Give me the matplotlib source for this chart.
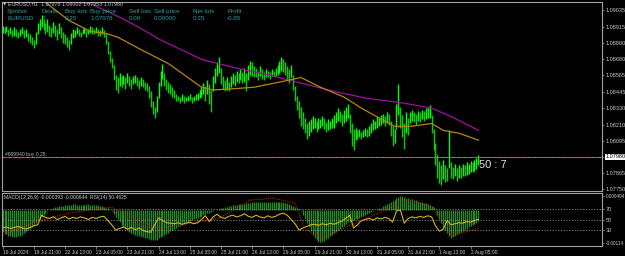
import numpy as np
import matplotlib
matplotlib.use('Agg')
import matplotlib.pyplot as plt
import matplotlib.transforms as mtransforms

plt.rcParams['font.family'] = ['Liberation Sans', 'DejaVu Sans']

# EURUSD H1 bars (high / low), one per hour
highs = [
    1.0892, 1.0891, 1.0892, 1.0890, 1.0891,
    1.0889, 1.0891, 1.0890, 1.0888, 1.0890,
    1.0891, 1.0889, 1.0890, 1.0887, 1.0886, 1.0884, 1.0882,
    1.0888, 1.0894, 1.0897, 1.0900,
    1.0896, 1.0894, 1.0897, 1.0893, 1.0891, 1.0895,
    1.0893, 1.0890, 1.0894, 1.0891, 1.0888, 1.0886, 1.0884, 1.0882,
    1.0887, 1.0890, 1.0889, 1.0891, 1.0890, 1.0888, 1.0890, 1.0891, 1.0889, 1.0890, 1.0892,
    1.0891, 1.0890, 1.0891, 1.0890, 1.0889, 1.0891, 1.0889,
    1.0887, 1.0881, 1.0874, 1.0869,
    1.0864, 1.0857, 1.0855,
    1.0858, 1.0856, 1.0857, 1.0855, 1.0858, 1.0856, 1.0854,
    1.0856, 1.0857, 1.0855, 1.0853, 1.0855, 1.0854, 1.0852, 1.0851,
    1.0849, 1.0845, 1.0838, 1.0834,
    1.0842, 1.0852, 1.0860, 1.0865,
    1.0858, 1.0854, 1.0852, 1.0850, 1.0848, 1.0846,
    1.0843, 1.0842, 1.0841, 1.0843, 1.0842, 1.0841, 1.0842, 1.0843, 1.0841, 1.0842, 1.0843, 1.0844, 1.0846,
    1.0848, 1.0851, 1.0849, 1.0853, 1.0850, 1.0846,
    1.0856, 1.0862, 1.0866, 1.0870,
    1.0862, 1.0856, 1.0853, 1.0855, 1.0852,
    1.0856, 1.0858, 1.0857, 1.0860, 1.0858, 1.0861, 1.0859,
    1.0862, 1.0858, 1.0864, 1.0867, 1.0866, 1.0863,
    1.0862, 1.0860, 1.0863, 1.0861, 1.0859, 1.0861,
    1.0860, 1.0859, 1.0861, 1.0860, 1.0862, 1.0864,
    1.0867, 1.0870, 1.0868, 1.0866,
    1.0863, 1.0861, 1.0864,
    1.0857, 1.0849, 1.0842,
    1.0838, 1.0834, 1.0830,
    1.0826, 1.0822, 1.0824, 1.0825,
    1.0827, 1.0826, 1.0824, 1.0826, 1.0825, 1.0827, 1.0826, 1.0823, 1.0825, 1.0824, 1.0826,
    1.0828, 1.0830, 1.0833, 1.0831, 1.0829, 1.0832, 1.0834, 1.0836,
    1.0829, 1.0822, 1.0818,
    1.0819, 1.0817, 1.0818, 1.0816, 1.0817, 1.0819, 1.0818, 1.0820,
    1.0822, 1.0825, 1.0824, 1.0827, 1.0826, 1.0828, 1.0829, 1.0827, 1.0830, 1.0829,
    1.0824, 1.0820, 1.0818,
    1.0836, 1.0850,
    1.0834, 1.0828, 1.0822, 1.0830, 1.0826,
    1.0830, 1.0832, 1.0830, 1.0829, 1.0831, 1.0830, 1.0832, 1.0831, 1.0833, 1.0834, 1.0835,
    1.0828, 1.0818, 1.0808,
    1.0800, 1.0795, 1.0792, 1.0796,
    1.0792, 1.0790,
    1.0817,
    1.0794, 1.0791, 1.0793, 1.0790, 1.0792, 1.0791, 1.0793, 1.0792,
    1.0794, 1.0793, 1.0795, 1.0794, 1.0796, 1.0797, 1.0799,
]
lows = [
    1.0887, 1.0886, 1.0888, 1.0885, 1.0886,
    1.0884, 1.0885, 1.0884, 1.0883, 1.0885,
    1.0886, 1.0883, 1.0884, 1.0881, 1.0880, 1.0878, 1.0876,
    1.0879, 1.0886, 1.0889, 1.0891,
    1.0889, 1.0886, 1.0888, 1.0885, 1.0884, 1.0887,
    1.0885, 1.0882, 1.0886, 1.0883, 1.0880, 1.0879, 1.0877, 1.0875,
    1.0879, 1.0883, 1.0884, 1.0886, 1.0885, 1.0884, 1.0886, 1.0887, 1.0884, 1.0886, 1.0887,
    1.0886, 1.0886, 1.0887, 1.0885, 1.0885, 1.0886, 1.0884,
    1.0879, 1.0872, 1.0866, 1.0862,
    1.0853, 1.0846, 1.0844,
    1.0849, 1.0848, 1.0850, 1.0847, 1.0851, 1.0849, 1.0847,
    1.0850, 1.0851, 1.0849, 1.0847, 1.0849, 1.0848, 1.0846, 1.0845,
    1.0840, 1.0834, 1.0829, 1.0826,
    1.0830, 1.0840, 1.0849, 1.0854,
    1.0849, 1.0846, 1.0844, 1.0843, 1.0841, 1.0840,
    1.0838, 1.0838, 1.0837, 1.0838, 1.0837, 1.0838, 1.0838, 1.0839, 1.0837, 1.0838, 1.0839, 1.0839, 1.0840,
    1.0841, 1.0843, 1.0838, 1.0843, 1.0836, 1.0830,
    1.0845, 1.0851, 1.0856, 1.0858,
    1.0850, 1.0847, 1.0845, 1.0846, 1.0845,
    1.0848, 1.0850, 1.0849, 1.0852, 1.0851, 1.0853, 1.0851,
    1.0852, 1.0845, 1.0853, 1.0857, 1.0856, 1.0855,
    1.0855, 1.0853, 1.0856, 1.0854, 1.0853, 1.0855,
    1.0855, 1.0854, 1.0856, 1.0855, 1.0856, 1.0857,
    1.0858, 1.0860, 1.0859, 1.0857,
    1.0853, 1.0851, 1.0855,
    1.0846, 1.0838, 1.0832,
    1.0826, 1.0820, 1.0818,
    1.0815, 1.0811, 1.0813, 1.0816,
    1.0818, 1.0819, 1.0816, 1.0818, 1.0819, 1.0820, 1.0818, 1.0816, 1.0817, 1.0818, 1.0819,
    1.0819, 1.0822, 1.0824, 1.0823, 1.0820, 1.0822, 1.0824, 1.0826,
    1.0815, 1.0806, 1.0803,
    1.0810, 1.0811, 1.0812, 1.0811, 1.0812, 1.0813, 1.0812, 1.0813,
    1.0815, 1.0817, 1.0818, 1.0819, 1.0820, 1.0821, 1.0822, 1.0820, 1.0822, 1.0821,
    1.0813, 1.0806, 1.0808,
    1.0818, 1.0828,
    1.0819, 1.0812, 1.0804, 1.0815, 1.0814,
    1.0822, 1.0824, 1.0823, 1.0821, 1.0824, 1.0823, 1.0825, 1.0824, 1.0825, 1.0826, 1.0826,
    1.0815, 1.0803, 1.0792,
    1.0783, 1.0779, 1.0778, 1.0782,
    1.0780, 1.0781,
    1.0790,
    1.0783, 1.0782, 1.0784, 1.0781, 1.0783, 1.0783, 1.0784, 1.0784,
    1.0785, 1.0786, 1.0787, 1.0787, 1.0788, 1.0789, 1.0792,
]

# moving averages read at a few bars
ma_slow_idx = [0, 35, 45, 56, 66, 81, 102, 119, 136, 153, 170, 187, 204, 220, 230, 244]
ma_slow = [1.0909, 1.0909, 1.0908, 1.0901, 1.0894, 1.0882, 1.0868, 1.0862, 1.0857,
           1.0851, 1.0845, 1.0840, 1.0837, 1.0833, 1.0827, 1.0817]
ma_fast_idx = [15, 20, 34, 45, 52, 59, 71, 85, 95, 102, 108, 119, 129, 143, 153,
               163, 175, 184, 193, 201, 210, 220, 226, 234, 244]
ma_fast = [1.0914, 1.0911, 1.0896, 1.0888, 1.0887, 1.0884, 1.0875, 1.0865, 1.0855,
           1.0848, 1.0846, 1.0847, 1.0848, 1.0852, 1.0855, 1.0848, 1.0841, 1.0833,
           1.0826, 1.0820, 1.0820, 1.0822, 1.0817, 1.0815, 1.0810]

# MACD main per bar (units of 0.00001)
macd_main = [
    -75, -80, -84, -88, -90, -92, -93, -92, -90, -88, -85, -80, -75, -70, -64, -58, -52, -45, -38,
    -30, -22, -15, -9, -4, 0, 4, 7, 10, 12, 14, 15,
    16, 17, 18, 18, 19, 20, 20, 19, 19, 18, 18, 19, 20, 20, 19, 18, 18, 17, 17, 16,
    14, 12, 9, 6, 2, -4,
    -12, -22, -32, -42, -50, -58, -64, -70, -75, -79, -83, -86, -88, -90,
    -92, -94, -96, -98, -100, -102, -104, -104, -102, -98,
    -94, -90, -86, -82, -78, -74, -70, -66, -62, -58, -54, -50, -47, -44, -41,
    -38, -35, -32, -29, -26, -23, -20, -17, -14, -11, -8, -5, -2, 0,
    2, 4, 6, 8, 10, 12, 14, 16, 17, 18, 19, 20, 21, 22, 23, 24,
    25, 26, 27, 28, 28, 29, 29, 30, 30, 30, 29, 29, 28, 28, 27, 27, 28, 28, 27, 26,
    24, 22, 19, 16, 12, 8, 3, -3,
    -15, -30, -45, -60, -74, -86, -96,
    -104, -110, -112, -110, -106,
    -100, -95, -90, -85, -80, -75, -70, -65, -60, -54, -48, -42,
    -40, -38, -35, -32, -29, -26, -22, -19, -16, -12, -9, -6, -3, 0, 3, 6, 9,
    13, 17, 21, 25, 29, 33, 37, 41, 46, 50,
    48, 46, 44, 42, 40, 38, 36, 34, 32, 30, 28, 26, 24, 22, 19, 16, 12,
    0, -15, -30, -45, -58, -70, -80, -88, -95,
    -92, -88, -84, -80, -76, -72, -68, -64, -60, -56, -52, -48, -44, -39,
]
signal_idx = [0, 16, 34, 51, 56, 73, 81, 111, 127, 139, 150, 155, 163, 170, 187,
              201, 206, 218, 221, 225, 230, 235, 244]
signal_vals = [-87, -42, -10, 7, 10, -52, -63, -28, 35, 42, 24, -63, -97, -77, -28,
               17, 35, 17, 10, -42, -87, -80, -63]

# RSI(14), every second bar
rsi_vals = [
    34, 36, 33, 35, 37, 34, 32, 35, 38, 40,
    58, 54, 52, 55, 50, 53, 56, 51, 54, 52, 55, 53, 50, 54, 52, 55,
    56, 48, 40,
    30, 33, 36, 32, 35, 31, 34, 29, 27, 26,
    40, 53, 48, 44,
    43, 42, 44, 41, 43, 45, 42, 44,
    50, 57, 46, 55, 60,
    54, 52, 56, 58, 55, 57, 61, 56, 54, 58, 55, 53, 57, 54, 56, 60, 62,
    58, 50, 42,
    30, 34, 37,
    40, 41, 39, 42, 40, 43, 41, 44, 47, 52,
    58, 34, 40,
    48, 50, 52, 49, 53, 51, 54, 52, 45,
    66, 68, 43,
    52, 55, 53, 56, 54, 57, 55,
    38, 28, 32,
    48, 40, 42, 44, 43, 46, 45, 48, 50.46,
]
rsi_levels = [70, 50, 30]

time_labels = ['19 Jul 2024', '19 Jul 21:00', '22 Jul 13:00', '23 Jul 05:00', '23 Jul 21:00',
               '24 Jul 13:00', '25 Jul 05:00', '25 Jul 21:00', '26 Jul 13:00', '29 Jul 05:00',
               '29 Jul 21:00', '30 Jul 13:00', '31 Jul 05:00', '31 Jul 21:00', '1 Aug 13:00',
               '2 Aug 05:00']
price_ticks = [1.09035, 1.08915, 1.08800, 1.08680, 1.08565, 1.08445, 1.08330,
               1.08210, 1.08095, 1.07980, 1.07865, 1.07750]
last_price = 1.07980

W, H = 625, 256
GRAY = '#a0a0a0'
TXT = '#c8c8c8'
TEAL = '#2f9f9f'


def px(x, y):
    return x / W, 1 - y / H


fig = plt.figure(figsize=(6.25, 2.56), dpi=100, facecolor='black')
ax = fig.add_axes([2 / W, 1 - 191 / H, 600 / W, 189 / H])
ax2 = fig.add_axes([2 / W, 1 - 246 / H, 600 / W, 53 / H], sharex=ax)
for a in (ax, ax2):
    a.set_facecolor('black')
    for s in a.spines.values():
        s.set_color(GRAY)
        s.set_linewidth(0.8)

x = np.arange(len(highs))
hi = np.array(highs)
lo = np.array(lows)
mid = (hi + lo) / 2
cols = ['#00ff00' if i == 0 or mid[i] >= mid[i - 1] else '#00d400' for i in range(len(mid))]
ax.vlines(x, lo, hi, colors=cols, linewidth=1.0)

ax.plot(ma_slow_idx, ma_slow, color='#a010a0', lw=0.9)
ax.plot(ma_fast_idx, ma_fast, color='#b8860b', lw=0.9)

# order line / bid line
ax.axhline(last_price, color='#7a7a7a', lw=0.6)
ax.axhline(last_price, color='#3cb371', lw=0.6, ls=(0, (4, 3)))

ax.set_xlim(-0.3, -0.3 + 600 / 1.95)
ax.set_ylim(1.07735, 1.09092)
ax.yaxis.tick_right()
ax.set_yticks(price_ticks)
ax.set_yticklabels(['' if p == last_price else f'{p:.5f}' for p in price_ticks])
ax.tick_params(axis='y', colors=GRAY, labelcolor=TXT, labelsize=4, length=1.5, width=0.5, pad=1)
ax.tick_params(axis='x', bottom=False, labelbottom=False)
tr = mtransforms.blended_transform_factory(ax.transAxes, ax.transData)
ax.text(1.006, last_price, f'{last_price:.5f}', transform=tr, fontsize=4, color='black',
        va='center', ha='left', bbox=dict(facecolor='white', edgecolor='none', pad=0.6))

# indicator window: MACD histogram + signal, RSI on a second scale
macd = np.array(macd_main) * 1e-5
ax2.vlines(x, 0, macd, colors='#1f8f1f', linewidth=0.9)
ax2.plot(signal_idx, np.array(signal_vals) * 1e-5, color='#c01818', lw=0.8, ls=(0, (1, 1)))
ax2.set_ylim(-0.001244, 0.000598)

axr = ax2.twinx()
axr.set_ylim(0, 100)
for lev in rsi_levels:
    axr.axhline(lev, color='#9a9a9a', lw=0.5, ls=(0, (2, 2)))
axr.plot(np.arange(0, 2 * len(rsi_vals), 2), rsi_vals, color='#d4b21e', lw=0.8)
axr.set_yticks(rsi_levels)
axr.set_yticklabels([str(v) for v in rsi_levels])
axr.tick_params(axis='y', colors=GRAY, labelcolor=TXT, labelsize=4, length=1.5, width=0.5, pad=1)
for s in axr.spines.values():
    s.set_visible(False)

ax2.yaxis.set_ticks_position('right')
ax2.yaxis.set_label_position('right')
ax2.set_yticks([0.000494, -0.00114])
ax2.set_yticklabels(['0.000494', '-0.00114'])
ax2.tick_params(axis='y', left=False, labelleft=False, right=True, labelright=True,
                colors=GRAY, labelcolor=TXT, labelsize=3.4, length=1.5, width=0.5, pad=1)

ax2.set_xticks(np.arange(0, 16 * len(time_labels), 16))
ax2.set_xticklabels(time_labels, ha='left')
ax2.tick_params(axis='x', colors=GRAY, labelcolor=TXT, labelsize=3.5, length=2, width=0.5, pad=1)

# header texts
fig.text(*px(3, 4), '\u25bc', fontsize=3, color=TXT, va='center', family=['DejaVu Sans'])
fig.text(*px(8, 4), 'EURUSD,H1  1.07978 1.08002 1.07953 1.07980', fontsize=3.8, color=TXT, va='center')
heads = ['Symbol', 'Deals', 'Buy lots', 'Buy price', 'Sell lots', 'Sell price', 'Net lots', 'Profit']
vals = ['EURUSD', '1', '0.25', '1.07978', '0.00', '0.00000', '0.25', '-0.85']
cols_x = [7, 42, 65, 90, 129, 154, 193, 227]
for cx, h, v in zip(cols_x, heads, vals):
    fig.text(*px(cx, 11.5), h, fontsize=4.5, color=TEAL, va='center')
    fig.text(*px(cx, 18.5), v, fontsize=4.5, color=TEAL, va='center')

fig.text(*px(5, 154.5), '#889940 buy 0.25', fontsize=3.6, color='#b0b0b0', va='center')
fig.text(*px(479, 164.5), '50 : 7', fontsize=8, color='#e0e0e0', va='center')
fig.text(*px(4, 197.5), 'MACD(12,26,9) -0.000393 -0.000644  RSI(14) 50.4625',
         fontsize=3.6, color=TXT, va='center')

fig.savefig('out.png', dpi=100, facecolor='black')
